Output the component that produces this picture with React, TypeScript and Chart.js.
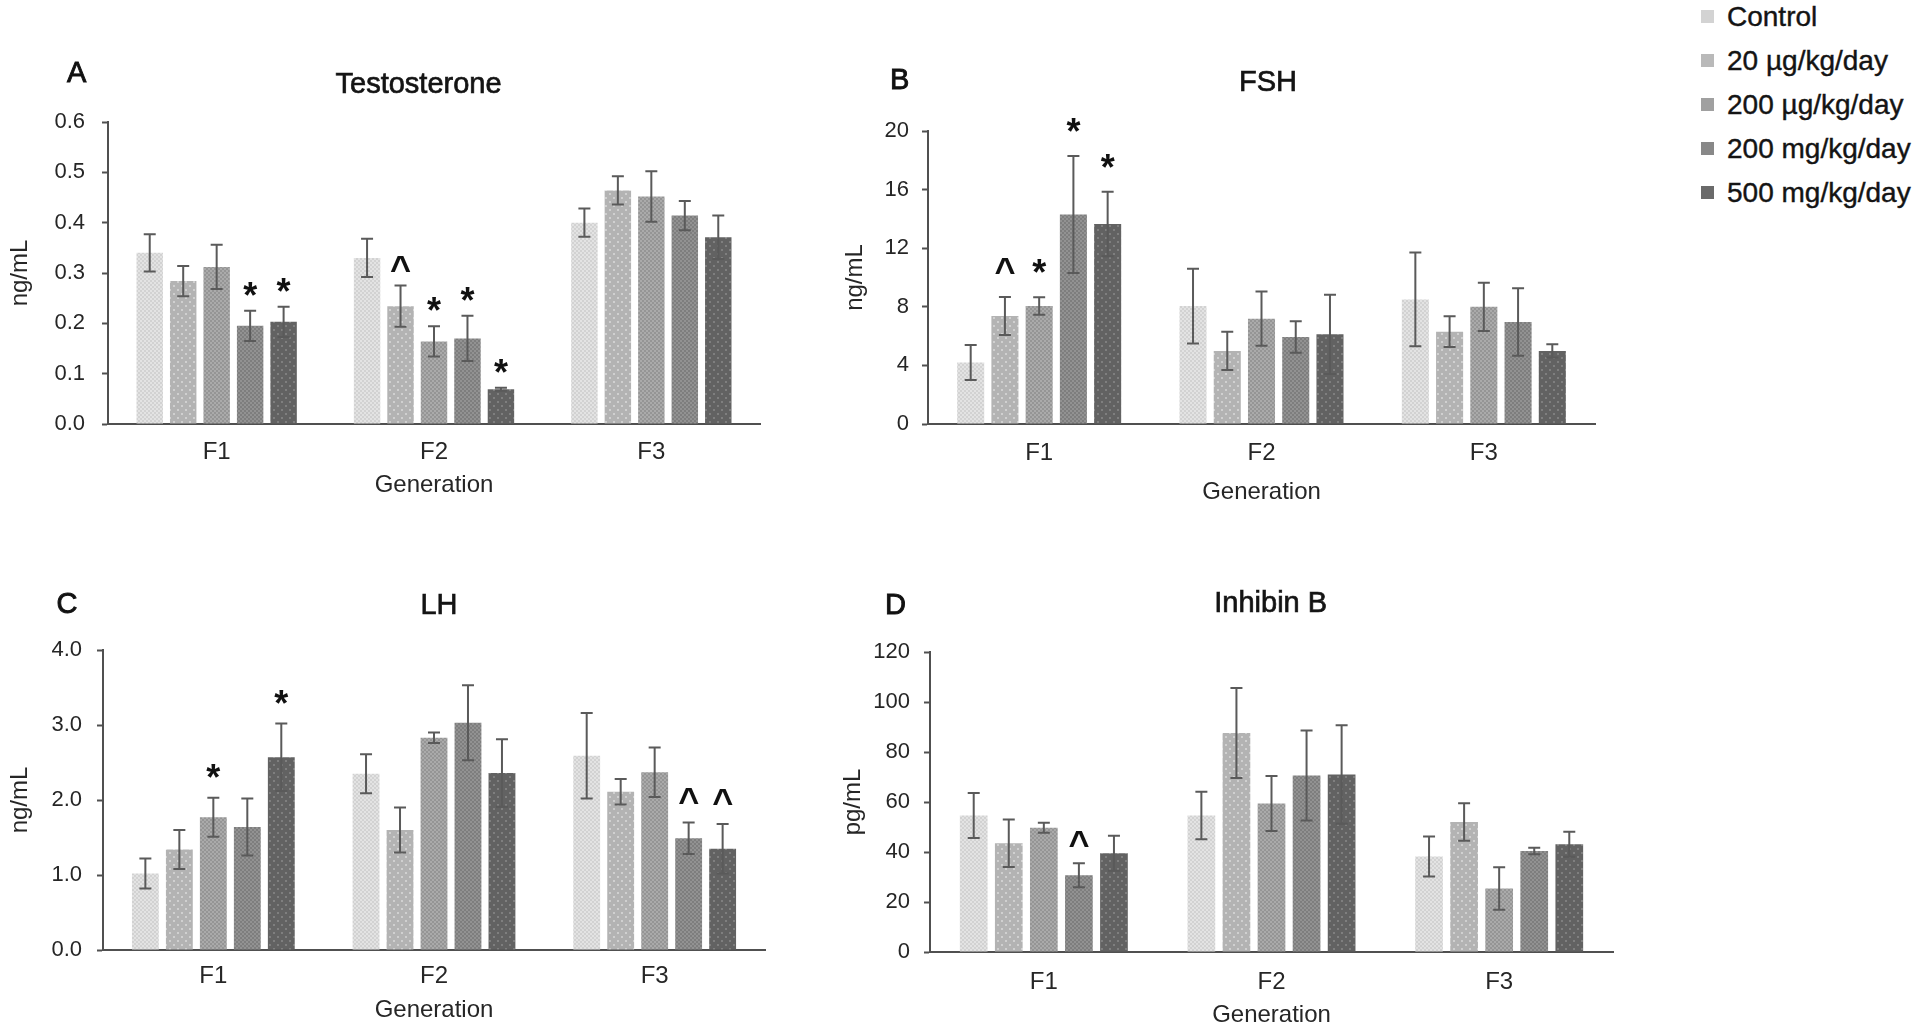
import React, { useEffect, useRef } from 'react';
import { Chart, registerables } from 'chart.js';

Chart.register(...registerables);

// ---------------- DATA ----------------
const generations = ['F1', 'F2', 'F3'];
const groupLabels = ['Control', '20 µg/kg/day', '200 µg/kg/day', '200 mg/kg/day', '500 mg/kg/day'];

// rows = dose groups (Control, 20 µg, 200 µg, 200 mg, 500 mg); columns = F1, F2, F3
const testosteroneMeans = [
  [0.34, 0.33, 0.4],
  [0.284, 0.234, 0.464],
  [0.312, 0.164, 0.452],
  [0.195, 0.17, 0.414],
  [0.203, 0.069, 0.371],
];
const testosteroneErrors = [
  [0.037, 0.038, 0.028],
  [0.03, 0.041, 0.028],
  [0.044, 0.03, 0.05],
  [0.03, 0.045, 0.029],
  [0.03, 0.003, 0.043],
];
const testosteroneMarks = [
  ['', '', ''],
  ['', '^', ''],
  ['', '*', ''],
  ['*', '*', ''],
  ['*', '*', ''],
];

const fshMeans = [
  [4.2, 8.05, 8.5],
  [7.37, 4.99, 6.3],
  [8.05, 7.19, 8.0],
  [14.3, 5.94, 6.96],
  [13.65, 6.12, 4.99],
];
const fshErrors = [
  [1.2, 2.55, 3.2],
  [1.3, 1.3, 1.05],
  [0.6, 1.85, 1.65],
  [4.0, 1.07, 2.3],
  [2.2, 2.7, 0.45],
];
const fshMarks = [
  ['', '', ''],
  ['^', '', ''],
  ['*', '', ''],
  ['*', '', ''],
  ['*', '', ''],
];

const lhMeans = [
  [1.02, 2.35, 2.59],
  [1.34, 1.6, 2.11],
  [1.77, 2.83, 2.37],
  [1.64, 3.03, 1.49],
  [2.57, 2.36, 1.35],
];
const lhErrors = [
  [0.2, 0.26, 0.57],
  [0.26, 0.3, 0.17],
  [0.26, 0.07, 0.33],
  [0.38, 0.5, 0.21],
  [0.45, 0.45, 0.33],
];
const lhMarks = [
  ['', '', ''],
  ['', '', ''],
  ['*', '', ''],
  ['', '', '^'],
  ['*', '', '^'],
];

const inhibinMeans = [
  [54.6, 54.6, 38.2],
  [43.5, 87.6, 52.0],
  [49.7, 59.4, 25.4],
  [30.7, 70.6, 40.4],
  [39.5, 71.0, 43.1],
];
const inhibinErrors = [
  [9, 9.5, 8],
  [9.5, 18, 7.5],
  [2, 11, 8.5],
  [4.8, 18, 1.3],
  [7, 19.7, 5],
];
const inhibinMarks = [
  ['', '', ''],
  ['', '', ''],
  ['', '', ''],
  ['^', '', ''],
  ['', '', ''],
];

// ---------------- STYLE ----------------
const FONT = '"Liberation Sans", Arial, Helvetica, sans-serif';
Chart.defaults.font.family = FONT;
const AXIS = '#505050';
const TEXT = '#262626';
const ERR = '#5a5a5a';

const groupStyles = [
  { kind: 'checker', base: '#d2d2d2', alt: '#e3e3e3', swatch: '#d3d3d3' },
  { kind: 'dots', base: '#b3b3b3', alt: '#d0d0d0', swatch: '#b9b9b9' },
  { kind: 'checker', base: '#959595', alt: '#aaaaaa', swatch: '#a0a0a0' },
  { kind: 'checker', base: '#7e7e7e', alt: '#929292', swatch: '#888888' },
  { kind: 'dots', base: '#626262', alt: '#7f7f7f', swatch: '#6a6a6a' },
];

function makePattern(ctx: CanvasRenderingContext2D, kind: string, base: string, alt: string) {
  const tile = document.createElement('canvas');
  const size = kind === 'checker' ? 4 : 8;
  tile.width = size;
  tile.height = size;
  const g = tile.getContext('2d')!;
  g.fillStyle = base;
  g.fillRect(0, 0, size, size);
  g.fillStyle = alt;
  if (kind === 'checker') {
    g.fillRect(0, 0, 2, 2);
    g.fillRect(2, 2, 2, 2);
  } else {
    g.fillRect(1, 1, 2, 2);
    g.fillRect(5, 5, 2, 2);
  }
  return ctx.createPattern(tile, 'repeat') || base;
}

type Box = { left: number; top: number; width: number; height: number };
type Area = { left: number; top: number; right: number; bottom: number };
type PanelSpec = {
  letter: string;
  title: string;
  yTitle: string;
  means: number[][];
  errors: number[][];
  marks: string[][];
  yMax: number;
  yStep: number;
  decimals: number;
  box: Box;
  area: Area;
  yTitleX: number;
  xTitleY: number;
  xTickY: number;
  yTickRight: number;
  titlePos: [number, number];
  letterPos: [number, number];
  markGap: number;
};

const panels: PanelSpec[] = [
  {
    letter: 'A', title: 'Testosterone', yTitle: 'ng/mL',
    means: testosteroneMeans, errors: testosteroneErrors, marks: testosteroneMarks,
    yMax: 0.6, yStep: 0.1, decimals: 1,
    box: { left: 0, top: 0, width: 790, height: 515 },
    area: { left: 108, top: 122, right: 760, bottom: 424 },
    yTitleX: 20, xTitleY: 485, xTickY: 452, yTickRight: 85,
    titlePos: [418, 83], letterPos: [77, 72], markGap: 22,
  },
  {
    letter: 'B', title: 'FSH', yTitle: 'ng/mL',
    means: fshMeans, errors: fshErrors, marks: fshMarks,
    yMax: 20, yStep: 4, decimals: 0,
    box: { left: 820, top: 0, width: 800, height: 515 },
    area: { left: 928, top: 131, right: 1595, bottom: 424 },
    yTitleX: 855, xTitleY: 492, xTickY: 453, yTickRight: 909,
    titlePos: [1268, 81], letterPos: [900, 79], markGap: 31,
  },
  {
    letter: 'C', title: 'LH', yTitle: 'ng/mL',
    means: lhMeans, errors: lhErrors, marks: lhMarks,
    yMax: 4, yStep: 1, decimals: 1,
    box: { left: 0, top: 515, width: 790, height: 516 },
    area: { left: 103, top: 650, right: 765, bottom: 950 },
    yTitleX: 20, xTitleY: 1010, xTickY: 976, yTickRight: 82,
    titlePos: [439, 604], letterPos: [67, 603], markGap: 27,
  },
  {
    letter: 'D', title: 'Inhibin B', yTitle: 'pg/mL',
    means: inhibinMeans, errors: inhibinErrors, marks: inhibinMarks,
    yMax: 120, yStep: 20, decimals: 0,
    box: { left: 820, top: 515, width: 800, height: 516 },
    area: { left: 930, top: 652, right: 1613, bottom: 952 },
    yTitleX: 853, xTitleY: 1015, xTickY: 982, yTickRight: 910,
    titlePos: [1271, 601], letterPos: [896, 604], markGap: 24,
  },
];

function drawCentered(
  ctx: CanvasRenderingContext2D,
  text: string,
  cx: number,
  cy: number,
  font: string,
  color: string,
  stroke = 0
) {
  ctx.font = font;
  ctx.fillStyle = color;
  ctx.textAlign = 'left';
  ctx.textBaseline = 'alphabetic';
  const m = ctx.measureText(text);
  const left = -m.actualBoundingBoxLeft;
  const right = m.actualBoundingBoxRight;
  const x = cx - (left + right) / 2;
  const y = cy - (m.actualBoundingBoxDescent - m.actualBoundingBoxAscent) / 2;
  ctx.fillText(text, x, y);
  if (stroke > 0) {
    ctx.strokeStyle = color;
    ctx.lineWidth = stroke;
    ctx.strokeText(text, x, y);
  }
}

function buildConfig(spec: PanelSpec, ctx: CanvasRenderingContext2D): any {
  const { box, area } = spec;
  const titleSize = 24;
  const titleLH = titleSize * 1.2;
  const tickSize = 22;
  const xTickSize = 24;
  const xTickLH = xTickSize * 1.2;

  const annot = {
    id: 'annot' + spec.letter,
    afterDatasetsDraw(chart: any) {
      const c = chart.ctx as CanvasRenderingContext2D;
      const ys = chart.scales.y;
      c.save();
      spec.means.forEach((row, i) => {
        const meta = chart.getDatasetMeta(i);
        row.forEach((m, j) => {
          const bar = meta.data[j];
          if (!bar) return;
          const x = bar.x;
          const e = spec.errors[i][j];
          const yt = ys.getPixelForValue(m + e);
          const yb = ys.getPixelForValue(Math.max(0, m - e));
          c.strokeStyle = ERR;
          c.lineWidth = 2;
          c.beginPath();
          c.moveTo(x, yt);
          c.lineTo(x, yb);
          c.moveTo(x - 6, yt);
          c.lineTo(x + 6, yt);
          c.moveTo(x - 6, yb);
          c.lineTo(x + 6, yb);
          c.stroke();
          const mk = spec.marks[i][j];
          if (mk) {
            drawCentered(c, mk, x, yt - spec.markGap, `bold 36px ${FONT}`, '#111');
          }
        });
      });
      c.restore();
    },
    afterDraw(chart: any) {
      const c = chart.ctx as CanvasRenderingContext2D;
      c.save();
      drawCentered(c, spec.title, spec.titlePos[0] - box.left, spec.titlePos[1] - box.top, `29px ${FONT}`, '#141414', 0.7);
      drawCentered(c, spec.letter, spec.letterPos[0] - box.left, spec.letterPos[1] - box.top, `29px ${FONT}`, '#111', 0.9);
      c.restore();
    },
  };

  return {
    type: 'bar',
    data: {
      labels: generations,
      datasets: groupLabels.map((g, i) => ({
        label: g,
        data: spec.means[i],
        backgroundColor: makePattern(ctx, groupStyles[i].kind, groupStyles[i].base, groupStyles[i].alt),
        borderWidth: 0,
        categoryPercentage: 0.77,
        barPercentage: 0.79,
      })),
    },
    options: {
      responsive: false,
      maintainAspectRatio: false,
      animation: false,
      devicePixelRatio: 1,
      events: [],
      layout: {
        padding: {
          left: 0,
          top: area.top - box.top,
          right: box.left + box.width - area.right,
          bottom: 0,
        },
      },
      plugins: {
        legend: { display: false },
        tooltip: { enabled: false },
        title: { display: false },
      },
      scales: {
        x: {
          grid: { display: false, drawTicks: false },
          border: { display: true, color: AXIS, width: 2 },
          ticks: {
            color: TEXT,
            font: { family: FONT, size: xTickSize },
            padding: spec.xTickY - area.bottom - xTickLH / 2,
            maxRotation: 0,
          },
          title: {
            display: true,
            text: 'Generation',
            color: TEXT,
            font: { family: FONT, size: titleSize },
            padding: { top: 0, bottom: box.top + box.height - spec.xTitleY - titleLH / 2 },
          },
          afterFit: (s: any) => {
            s.height = box.top + box.height - area.bottom;
          },
        },
        y: {
          min: 0,
          max: spec.yMax,
          ticks: {
            stepSize: spec.yStep,
            color: TEXT,
            font: { family: FONT, size: tickSize },
            padding: area.left - spec.yTickRight - 6,
            callback: (v: any) => Number(v).toFixed(spec.decimals),
          },
          grid: {
            display: true,
            drawOnChartArea: false,
            drawTicks: true,
            tickLength: 6,
            tickWidth: 2,
            tickColor: AXIS,
            color: AXIS,
          },
          border: { display: true, color: AXIS, width: 2 },
          title: {
            display: true,
            text: spec.yTitle,
            color: TEXT,
            font: { family: FONT, size: titleSize },
            padding: { top: spec.yTitleX - box.left - titleLH / 2, bottom: 0 },
          },
          afterFit: (s: any) => {
            s.width = area.left - box.left;
          },
        },
      },
    },
    plugins: [annot],
  };
}

function Panel({ spec }: { spec: PanelSpec }) {
  const ref = useRef<HTMLCanvasElement>(null);
  useEffect(() => {
    const canvas = ref.current;
    if (!canvas) return;
    const ctx = canvas.getContext('2d')!;
    const chart = new Chart(canvas, buildConfig(spec, ctx));
    return () => chart.destroy();
  }, [spec]);
  const { box } = spec;
  return (
    <canvas
      ref={ref}
      width={box.width}
      height={box.height}
      style={{ position: 'absolute', left: box.left, top: box.top, width: box.width, height: box.height }}
    />
  );
}

function Legend() {
  const rowTop = 17;
  const rowGap = 44;
  return (
    <>
      {groupLabels.map((g, i) => {
        const cy = rowTop + i * rowGap;
        return (
          <React.Fragment key={g}>
            <div
              style={{
                position: 'absolute',
                left: 1701,
                top: cy - 7,
                width: 13,
                height: 13,
                background: groupStyles[i].swatch,
              }}
            />
            <div
              style={{
                position: 'absolute',
                left: 1727,
                top: cy - 14,
                fontFamily: FONT,
                fontSize: 28,
                lineHeight: '28px',
                color: '#141414',
                whiteSpace: 'nowrap',
                WebkitTextStroke: '0.4px #141414',
              }}
            >
              {g}
            </div>
          </React.Fragment>
        );
      })}
    </>
  );
}

export default function App() {
  return (
    <div
      style={{
        position: 'absolute',
        left: 0,
        top: 0,
        width: 1920,
        height: 1031,
        background: '#ffffff',
        overflow: 'hidden',
      }}
    >
      {panels.map((p) => (
        <Panel key={p.letter} spec={p} />
      ))}
      <Legend />
    </div>
  );
}
